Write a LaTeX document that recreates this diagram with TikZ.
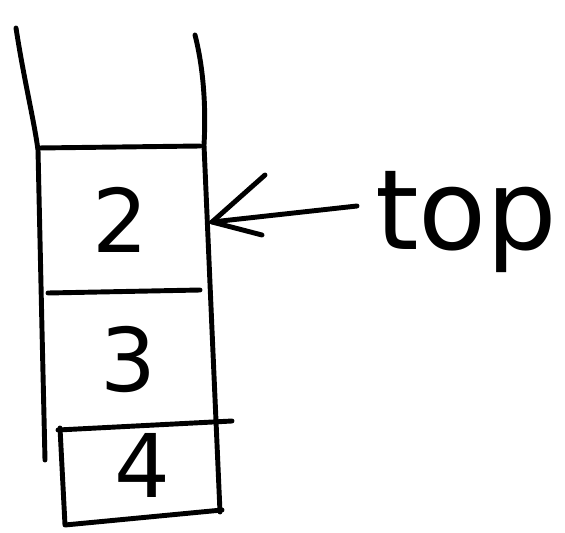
\documentclass[tikz,border=0pt]{standalone}
\usepackage{fontspec}
\setmainfont{DejaVu Sans}
\usetikzlibrary{positioning,calc}

\begin{document}
\begin{tikzpicture}[
    x=0.03cm, y=-0.03cm,
    wall/.style={line width=4.2pt, line cap=round, line join=round},
    cell/.style={font=\fontsize{75}{75}\selectfont, inner sep=0pt},
    every node/.style={text=black}
]
\useasboundingbox (0,0) rectangle (565,532);

% === Stack walls ===
\draw[wall] (16,28) .. controls (24,80) and (34,120) .. (38,150) -- (42,330) -- (45,460);
\draw[wall] (195,35) .. controls (204,70) and (206,110) .. (204,145) -- (212,330) -- (220,512);

% === Cell separators ===
\draw[wall] (38,148) -- (200,146);
\draw[wall] (48,293) -- (200,290);
\draw[wall] (58,430) -- (232,421);

% Bottom cell box
\draw[wall] (60,428) -- (65,525) -- (222,510);

% === Cell labels ===
\node[cell] (two) at (120,220) {2};
\node[cell] (three) at (128,360) {3};
\node[cell] (four) at (142,465) {4};

% === Top pointer ===
\node[cell, font=\fontsize{95}{95}\selectfont, anchor=west] (top) at (375,222) {top};
\coordinate (tip) at (212,222);
\draw[wall] (top.west) ++(-18,-16) coordinate (tail) -- (tip);
\draw[wall] (265,175) -- (tip) -- (262,235);

\end{tikzpicture}
\end{document}
